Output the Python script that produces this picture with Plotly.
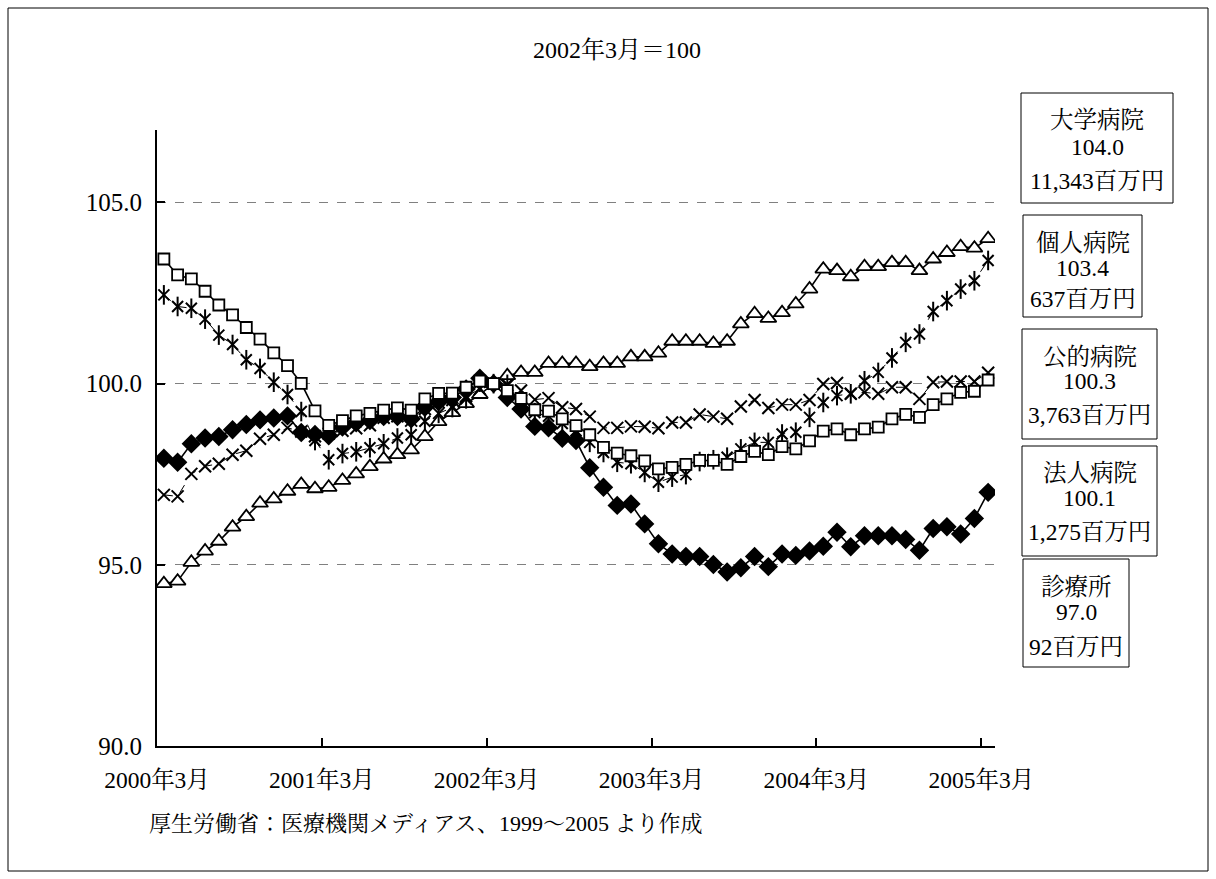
import plotly.graph_objects as go

# ---------------- data ----------------
months = []
for k in range(61):
    yy = 2000 + (k + 2) // 12
    mm = (k + 2) % 12 + 1
    months.append(f"{yy}年{mm}月")

tick_labels = ["2000年3月", "2001年3月", "2002年3月", "2003年3月", "2004年3月", "2005年3月"]

univ = [94.48, 94.55, 95.07, 95.38, 95.65, 96.04, 96.33, 96.70, 96.82, 97.03,
        97.22, 97.10, 97.14, 97.33, 97.51, 97.71, 97.92, 98.04, 98.17, 98.54,
        98.95, 99.20, 99.45, 99.70, 100.00, 100.22, 100.31, 100.31, 100.56, 100.56,
        100.56, 100.47, 100.56, 100.56, 100.74, 100.74, 100.84, 101.17, 101.17, 101.17,
        101.11, 101.17, 101.65, 101.93, 101.80, 101.96, 102.20, 102.61, 103.16, 103.12,
        102.95, 103.23, 103.23, 103.34, 103.34, 103.12, 103.44, 103.62, 103.78, 103.74,
        104.00]

private = [102.45, 102.13, 102.08, 101.78, 101.34, 101.08, 100.66, 100.42, 100.04, 99.70,
           99.23, 98.43, 97.90, 98.07, 98.12, 98.23, 98.34, 98.50, 98.59, 98.96,
           99.18, 99.34, 99.58, 100.04, 100.00, 99.98, 99.45, 99.20, 99.10, 98.90,
           98.70, 98.38, 98.10, 97.83, 97.79, 97.55, 97.28, 97.42, 97.49, 97.85,
           97.90, 97.97, 98.20, 98.38, 98.38, 98.61, 98.66, 99.07, 99.48, 99.67,
           99.72, 100.08, 100.31, 100.71, 101.14, 101.37, 101.99, 102.29, 102.61, 102.84,
           103.40]

public = [96.93, 96.89, 97.51, 97.72, 97.79, 98.04, 98.15, 98.48, 98.59, 98.78,
          98.68, 98.55, 98.62, 98.70, 98.77, 98.85, 99.06, 99.10, 98.98, 99.30,
          99.49, 99.55, 99.65, 99.85, 100.00, 99.95, 99.81, 99.56, 99.60, 99.35,
          99.30, 99.09, 98.78, 98.78, 98.82, 98.81, 98.77, 98.93, 98.93, 99.15,
          99.09, 99.03, 99.37, 99.55, 99.33, 99.42, 99.42, 99.55, 99.99, 100.02,
          99.72, 99.76, 99.72, 99.90, 99.90, 99.58, 100.04, 100.06, 100.06, 100.06,
          100.30]

corp = [103.44, 103.00, 102.89, 102.55, 102.17, 101.90, 101.55, 101.23, 100.85, 100.50,
        100.01, 99.25, 98.85, 98.98, 99.11, 99.18, 99.27, 99.33, 99.27, 99.58,
        99.73, 99.74, 99.90, 100.07, 100.00, 99.81, 99.59, 99.28, 99.24, 99.03,
        98.84, 98.59, 98.24, 98.08, 98.01, 97.87, 97.65, 97.69, 97.77, 97.88,
        97.88, 97.77, 97.99, 98.13, 98.04, 98.26, 98.20, 98.42, 98.69, 98.75,
        98.59, 98.75, 98.80, 99.03, 99.15, 99.07, 99.42, 99.58, 99.76, 99.79,
        100.10]

clinic = [97.94, 97.83, 98.34, 98.50, 98.54, 98.73, 98.87, 99.00, 99.05, 99.11,
          98.65, 98.60, 98.56, 98.80, 98.92, 98.98, 99.09, 99.09, 99.03, 99.35,
          99.50, 99.62, 99.85, 100.15, 100.00, 99.62, 99.30, 98.82, 98.78, 98.49,
          98.43, 97.68, 97.14, 96.64, 96.68, 96.13, 95.58, 95.30, 95.23, 95.23,
          95.01, 94.80, 94.92, 95.23, 94.95, 95.30, 95.26, 95.38, 95.51, 95.90,
          95.50, 95.80, 95.80, 95.80, 95.70, 95.40, 96.00, 96.05, 95.85, 96.28,
          97.00]

box_names = ["大学病院", "個人病院", "公的病院", "法人病院", "診療所"]
box_index = ["104.0", "103.4", "100.3", "100.1", "97.0"]
box_amount = ["11,343百万円", "637百万円", "3,763百万円", "1,275百万円", "92百万円"]

title_text = "2002年3月＝100"
source_text = "厚生労働省：医療機関メディアス、1999～2005 より作成"

# ---------------- layout geometry (pixels) ----------------
W, H = 1216, 879
PL, PR, PT, PB = 157, 995, 130, 746

def px2x(px):
    return (px - PL) / (PR - PL)

def px2y(py):
    return (PB - py) / (PB - PT)

FONT = "Liberation Serif, 'Noto Serif CJK JP', 'Noto Sans CJK JP', serif"
FS = 23.5

xs = list(range(len(months)))

fig = go.Figure()

def add(series, name, symbol, size, fill, dash, lw, mlw=1.8, with_line=True):
    fig.add_trace(go.Scatter(
        x=xs, y=series, name=name, mode="lines+markers" if with_line else "markers",
        customdata=months, hovertemplate="%{customdata}: %{y:.1f}<extra>" + name + "</extra>",
        line=dict(color="black", width=lw, dash=dash),
        marker=dict(symbol=symbol, size=size, color=fill,
                    line=dict(color="black", width=mlw)),
    ))

add(clinic, "診療所", "diamond", 13, "black", "solid", 1.6)
add(univ, "大学病院", "triangle-up", 14, "white", "solid", 1.6)
add(public, "公的病院", "x-thin", 12, "black", "dash", 1.0, 2.0)
# asterisk marker of the reference: an "x" crossed by a vertical bar
add(private, "個人病院", "x-thin", 11, "black", "dash", 1.0, 2.0)
add(private, "個人病院", "line-ns", 14, "black", "solid", 1.0, 2.0, with_line=False)
add(corp, "法人病院", "square", 11, "white", "solid", 1.6)

tickvals = [months.index(t) - 0.5 for t in tick_labels]

fig.update_layout(
    width=W, height=H, autosize=False,
    margin=dict(l=PL, r=W - PR, t=PT, b=H - PB, pad=0),
    paper_bgcolor="white", plot_bgcolor="white",
    showlegend=False,
    font=dict(family=FONT, size=FS, color="black"),
    xaxis=dict(
        range=[-0.5, len(months) - 0.5], showgrid=False, zeroline=False,
        showline=True, linecolor="black", linewidth=2,
        tickmode="array", tickvals=tickvals, ticktext=tick_labels,
        ticks="inside", ticklen=8, tickwidth=1.5, tickcolor="black",
        ticklabelstandoff=12,
        tickfont=dict(family=FONT, size=FS, color="black"),
    ),
    yaxis=dict(
        range=[90, 107], zeroline=False,
        showline=True, linecolor="black", linewidth=2,
        tickmode="array", tickvals=[90, 95, 100, 105],
        ticktext=["90.0", "95.0", "100.0", "105.0"],
        ticks="inside", ticklen=8, tickwidth=1.5, tickcolor="black",
        ticklabelstandoff=8,
        showgrid=True, gridcolor="#808080", gridwidth=1, griddash="dash",
        tickfont=dict(family=FONT, size=25, color="black"),
    ),
)

shapes = []
annotations = []

# outer frame
shapes.append(dict(type="rect", xref="paper", yref="paper",
                   x0=px2x(8), x1=px2x(1208), y0=px2y(871), y1=px2y(8),
                   line=dict(color="black", width=1), fillcolor="rgba(0,0,0,0)", layer="below"))

annotations.append(dict(xref="paper", yref="paper", x=px2x(617), y=px2y(50),
                        text=title_text, showarrow=False, xanchor="center", yanchor="middle",
                        font=dict(family=FONT, size=24, color="black")))
annotations.append(dict(xref="paper", yref="paper", x=px2x(147), y=px2y(823),
                        text=source_text, showarrow=False, xanchor="left", yanchor="middle",
                        font=dict(family=FONT, size=22, color="black")))

# right-hand label boxes: (x0, x1, y0, y1, line1_y, line2_y, line3_y)
boxes = [
    (1021, 1173, 93, 203, 120, 147, 181),
    (1023, 1142, 215, 317, 243, 268, 299),
    (1022, 1157, 329, 439, 357, 381, 415),
    (1022, 1157, 446, 556, 473, 498, 532),
    (1023, 1129, 559, 667, 587, 612, 647),
]
for (x0, x1, y0, y1, l1, l2, l3), nm, ix, am in zip(boxes, box_names, box_index, box_amount):
    shapes.append(dict(type="rect", xref="paper", yref="paper",
                       x0=px2x(x0), x1=px2x(x1), y0=px2y(y1), y1=px2y(y0),
                       line=dict(color="black", width=1), fillcolor="white"))
    cx = px2x((x0 + x1) / 2)
    for txt, ly in ((nm, l1), (ix, l2), (am, l3)):
        annotations.append(dict(xref="paper", yref="paper", x=cx, y=px2y(ly),
                                text=txt, showarrow=False, xanchor="center", yanchor="middle",
                                font=dict(family=FONT, size=FS, color="black")))

fig.update_layout(shapes=shapes, annotations=annotations)

fig.write_html("out.html")
